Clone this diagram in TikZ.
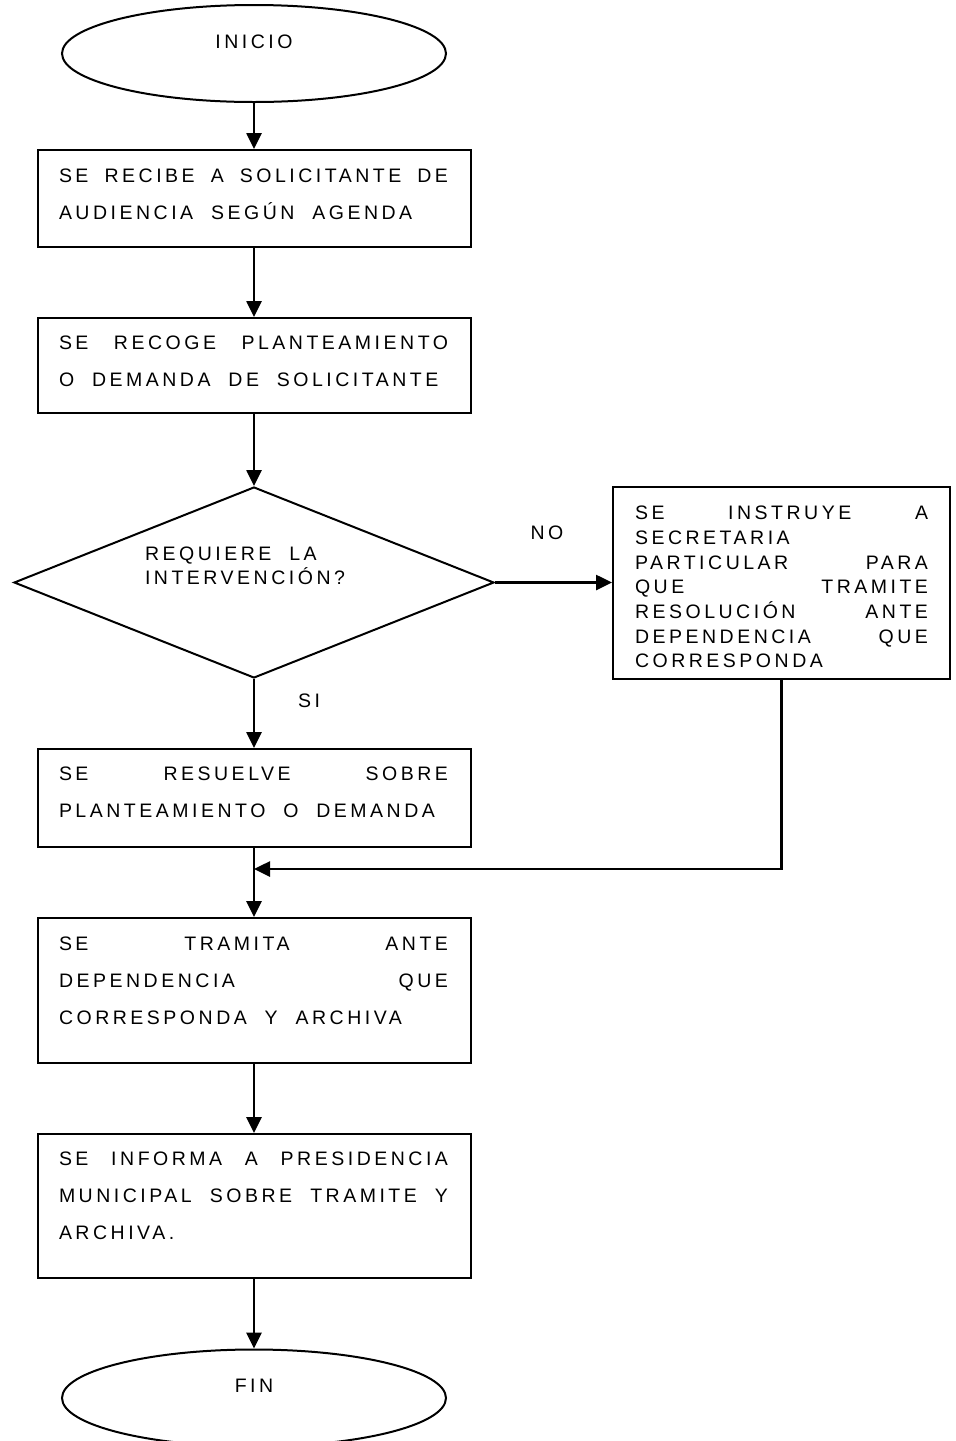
\documentclass[tikz,border=0pt]{standalone}
\usepackage{fontspec}
\newfontfamily\flowfont[LetterSpace=18, WordSpace=2.0]{Liberation Sans}
\usetikzlibrary{arrows.meta,shapes.geometric}
% 两端对齐的一行
\newcommand\jline[2][389pt]{\makebox[#1][s]{#2}}

\begin{document}
\begin{tikzpicture}[x=1pt, y=-1pt, line width=2pt, line join=miter,
  frame/.style={draw, rectangle, inner sep=0pt, minimum width=433pt},
  terminal/.style={draw, ellipse, inner sep=0pt, minimum width=384pt, minimum height=97pt},
  txt/.style={inner sep=0pt, align=left, anchor=north west, font=\flowfont\fontsize{19.5}{37}\selectfont},
  tag/.style={inner sep=0pt, font=\flowfont\fontsize{19.5}{22}\selectfont},
  flow/.style={line width=2.6pt, -{Triangle[length=16pt, width=15pt]}}]

  % ── 先定好页面（FIN 的下缘要被裁掉）──
  \path[use as bounding box] (0,0) rectangle (956,1441);
  \clip (0,0) rectangle (956,1441);

  % ── 开始 ──
  \node[terminal] (inicio) at (254,53.5) {};
  \node[tag] (inicio-t) at (254,42) {INICIO};

  % ── 方框（框 + 左上角文字）──
  \node[frame, minimum height=97pt] (b1) at (254,198.5) {};
  \node[txt] (b1-t) at (58,168) {\jline{SE RECIBE A SOLICITANTE DE}\\AUDIENCIA SEGÚN AGENDA};

  \node[frame, minimum height=95pt] (b2) at (254,365.5) {};
  \node[txt] (b2-t) at (58,335) {\jline{SE RECOGE PLANTEAMIENTO}\\O DEMANDA DE SOLICITANTE};

  % ── 判断菱形 ──
  \node[draw, diamond, aspect=2.51, inner sep=0pt, minimum width=480pt, minimum height=191pt] (dec) at (254,582.5) {};
  \node[txt, font=\flowfont\fontsize{19.5}{24}\selectfont] (dec-t) at (144,546) {REQUIERE LA\\INTERVENCIÓN?};

  % ── 右侧方框 ──
  \node[frame, minimum width=337pt, minimum height=192pt] (b6) at (781.5,582.5) {};
  \node[txt, font=\flowfont\fontsize{19.5}{24.7}\selectfont] (b6-t) at (634,505)
    {\jline[293pt]{SE INSTRUYE A}\\SECRETARIA\\\jline[293pt]{PARTICULAR PARA}\\\jline[293pt]{QUE TRAMITE}\\
     \jline[293pt]{RESOLUCIÓN ANTE}\\\jline[293pt]{DEPENDENCIA QUE}\\CORRESPONDA};

  \node[frame, minimum height=98pt] (b3) at (254,798) {};
  \node[txt] (b3-t) at (58,766) {\jline{SE RESUELVE SOBRE}\\PLANTEAMIENTO O DEMANDA};

  \node[frame, minimum height=145pt] (b4) at (254,990.5) {};
  \node[txt] (b4-t) at (58,936) {\jline{SE TRAMITA ANTE}\\\jline{DEPENDENCIA QUE}\\CORRESPONDA Y ARCHIVA};

  \node[frame, minimum height=144pt] (b5) at (254,1206) {};
  \node[txt] (b5-t) at (58,1151) {\jline{SE INFORMA A PRESIDENCIA}\\\jline{MUNICIPAL SOBRE TRAMITE Y}\\ARCHIVA.};

  % ── 结束 ──
  \node[terminal] (fin) at (254,1398) {};
  \node[tag] (fin-t) at (254,1386) {FIN};

  % ── 连线 ──
  \coordinate (join) at (254,869);
  \draw[flow] (inicio.south) -- (b1.north);
  \draw[flow] (b1.south) -- (b2.north);
  \draw[flow] (b2.south) -- (dec.north);
  \draw[flow] (dec.east) -- (b6.west);
  \draw[flow] (dec.south) -- (b3.north);
  \draw[flow] (b6.south) |- (join);
  \draw[flow] (b3.south) -- (b4.north);
  \draw[flow] (b4.south) -- (b5.north);
  \draw[flow] (b5.south) -- (fin.north);

  % ── 分支标签 ──
  \node[tag] (no) at (547,533) {NO};
  \node[tag] (si) at (309,701) {SI};
\end{tikzpicture}
\end{document}
